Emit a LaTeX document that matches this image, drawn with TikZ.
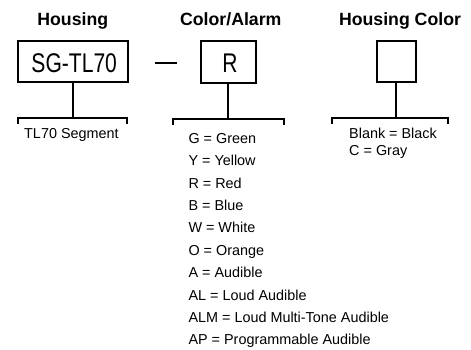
\documentclass[tikz,border=0pt]{standalone}
\usepackage{fontspec}
\setmainfont{Liberation Sans}
\newfontfamily\boxfont[FakeStretch=0.78]{Liberation Sans}
\begin{document}
\begin{tikzpicture}[x=1pt,y=-1pt,
  ttl/.style={font=\fontsize{17.7}{20}\selectfont\bfseries, anchor=base, inner sep=0pt},
  codebox/.style={draw, line width=2pt, inner sep=0pt},
  codetxt/.style={font=\boxfont\fontsize{27}{30}\selectfont, anchor=base, inner sep=0pt},
  item/.style={font=\fontsize{14.4}{16}\selectfont, anchor=base west, inner sep=0pt},
  conn/.style={line width=2pt, line join=miter}
]
\useasboundingbox (0,0) rectangle (471,350);
% titles
\node[ttl] (t1) at (72.8,26) {Housing};
\node[ttl] (t2) at (230.8,26) {Color/Alarm};
\node[ttl] (t3) at (400,26) {Housing Color};
% boxes
\node[codebox, minimum width=110pt, minimum height=41.6pt] (b1) at (73.3,61.5) {};
\node[codetxt] (c1) at (74.2,73) {SG-TL70};
\node[codebox, minimum width=55.3pt, minimum height=41.6pt] (b2) at (228.4,62) {};
\node[codetxt] (c2) at (230,72.5) {R};
\node[codebox, minimum width=39pt, minimum height=41.6pt] (b3) at (396.2,61.5) {};
% dash
\coordinate (d1) at (155,63);
\coordinate (d2) at (176.7,63);
\draw[line width=2pt] (d1) -- (d2);
% brackets
\coordinate (l1) at (18.3,118);
\coordinate (r1) at (127.3,118);
\coordinate (l2) at (173.3,119);
\coordinate (r2) at (284,119);
\coordinate (l3) at (331.7,118);
\coordinate (r3) at (447.7,118);
\draw[conn] (b1.south) -- (b1.south |- l1);
\draw[conn] (l1) ++(0,6) -- (l1) -- (r1) -- ++(0,6);
\draw[conn] (b2.south) -- (b2.south |- l2);
\draw[conn] (l2) ++(0,6) -- (l2) -- (r2) -- ++(0,6);
\draw[conn] (b3.south) -- (b3.south |- l3);
\draw[conn] (l3) ++(0,6) -- (l3) -- (r3) -- ++(0,6);
% texts
\node[item] (s1) at (24,138.7) {TL70 Segment};
\node[item] (h1) at (349,138.7) {Blank = Black};
\node[item] (h2) at (349,155.8) {C = Gray};
\node[item] (a1) at (188.3,143.3) {G = Green};
\node[item] (a2) at (188.3,165.7) {Y = Yellow};
\node[item] (a3) at (188.3,188.1) {R = Red};
\node[item] (a4) at (188.3,210.5) {B = Blue};
\node[item] (a5) at (188.3,232.9) {W = White};
\node[item] (a6) at (188.3,255.3) {O = Orange};
\node[item] (a7) at (188.3,277.7) {A = Audible};
\node[item] (a8) at (188.3,300.1) {AL = Loud Audible};
\node[item] (a9) at (188.3,322.5) {ALM = Loud Multi-Tone Audible};
\node[item] (a10) at (188.3,344.9) {AP = Programmable Audible};
\end{tikzpicture}
\end{document}
